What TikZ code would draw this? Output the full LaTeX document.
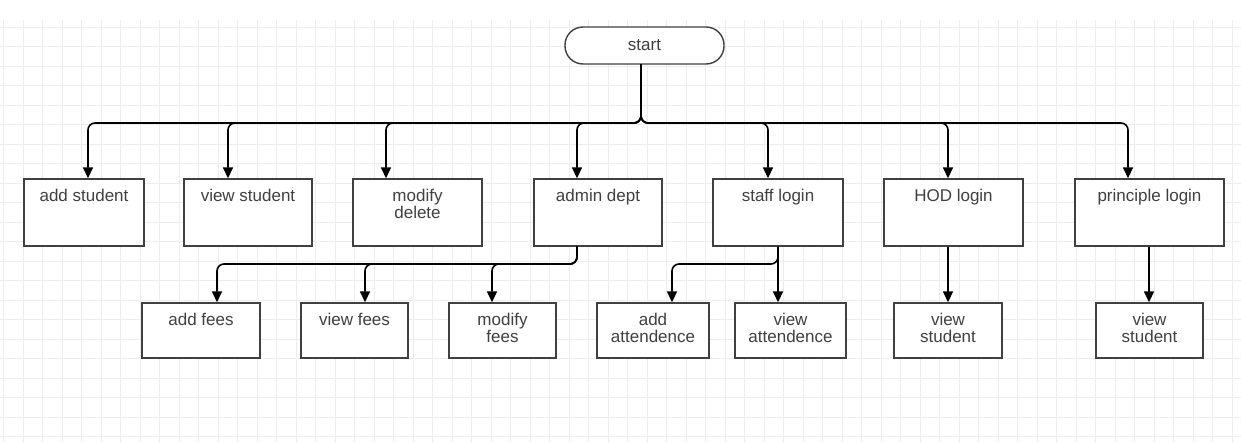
\documentclass[tikz,border=0pt]{standalone}
\usepackage{fontspec}
\setmainfont{Liberation Sans}
\usetikzlibrary{arrows.meta}

\begin{document}
\begin{tikzpicture}[x=1pt, y=-1pt,
	box/.style={draw=black!75, line width=1.4pt, fill=white, minimum height=67pt, inner sep=0},
	lowbox/.style={box, minimum height=55pt},
	boxtext/.style={below=11pt, inner sep=0, align=center, text=black!75, font=\fontsize{17}{17}\selectfont},
	flow/.style={-{Triangle[length=11pt, width=10pt]}, line width=1.6pt, rounded corners=7pt},
	gridline/.style={black!7, line width=0.7pt}
	]
	\useasboundingbox [fill=white] (0,0) rectangle (1241,442);
	
	\foreach \y in {27,46.5,...,442} {
		\draw [gridline] (0,\y) -- (1241,\y);
	}
	\foreach \x in {3.5,23,...,1241} {
		\draw [gridline] (\x,20) -- (\x,442);
	}
	
	\node (start) at (644.5,45.5) [draw=black!75, line width=1.4pt, fill=white, rounded corners=18pt, minimum width=159pt, minimum height=37pt] {};
	\node at (start) [text=black!75, font=\fontsize{17}{17}\selectfont] {start};
	
	% first level
	\node (addst) at (84,212.5) [box, minimum width=120pt] {};
	\node at (addst.north) [boxtext] {add student};
	
	\node (viewst) at (248,212.5) [box, minimum width=128pt] {};
	\node at (viewst.north) [boxtext] {view student};
	
	\node (moddel) at (417.5,212.5) [box, minimum width=129pt] {};
	\node at (moddel.north) [boxtext] {modify\\delete};
	
	\node (admin) at (598,212.5) [box, minimum width=128pt] {};
	\node at (admin.north) [boxtext] {admin dept};
	
	\node (staff) at (778,212.5) [box, minimum width=130pt] {};
	\node at (staff.north) [boxtext] {staff login};
	
	\node (hod) at (953.5,212.5) [box, minimum width=139pt] {};
	\node at (hod.north) [boxtext] {HOD login};
	
	\node (princ) at (1149.5,212.5) [box, minimum width=149pt] {};
	\node at (princ.north) [boxtext] {principle login};
	
	% second level
	\node (addfee) at (201,330.5) [lowbox, minimum width=118pt] {};
	\node at (addfee.north) [boxtext] {add fees};
	
	\node (viewfee) at (354.5,330.5) [lowbox, minimum width=107pt] {};
	\node at (viewfee.north) [boxtext] {view fees};
	
	\node (modfee) at (502.5,330.5) [lowbox, minimum width=107pt] {};
	\node at (modfee.north) [boxtext] {modify\\fees};
	
	\node (addatt) at (653,330.5) [lowbox, minimum width=112pt] {};
	\node at (addatt.north) [boxtext] {add\\attendence};
	
	\node (viewatt) at (790.5,330.5) [lowbox, minimum width=111pt] {};
	\node at (viewatt.north) [boxtext] {view\\attendence};
	
	\node (hodview) at (948,330.5) [lowbox, minimum width=108pt] {};
	\node at (hodview.north) [boxtext] {view\\student};
	
	\node (prinview) at (1149.5,330.5) [lowbox, minimum width=107pt] {};
	\node at (prinview.north) [boxtext] {view\\student};
	
	% connectors
	\foreach \to/\x in {addst/88, viewst/228, moddel/386, admin/577, staff/768, hod/948, princ/1128} {
		\draw [flow] (641,0 |- start.south) |- (\x,123) -- (\x,0 |- \to.north);
	}
	\foreach \to/\x in {addfee/217, viewfee/365, modfee/492} {
		\draw [flow] (577,0 |- admin.south) |- (\x,264) -- (\x,0 |- \to.north);
	}
	\draw [flow] (778,0 |- staff.south) |- (672,264) -- (672,0 |- addatt.north);
	\draw [flow] (staff.south) -- (staff.south |- viewatt.north);
	\draw [flow] (948,0 |- hod.south) -- (948,0 |- hodview.north);
	\draw [flow] (1149,0 |- princ.south) -- (1149,0 |- prinview.north);
\end{tikzpicture}
\end{document}
